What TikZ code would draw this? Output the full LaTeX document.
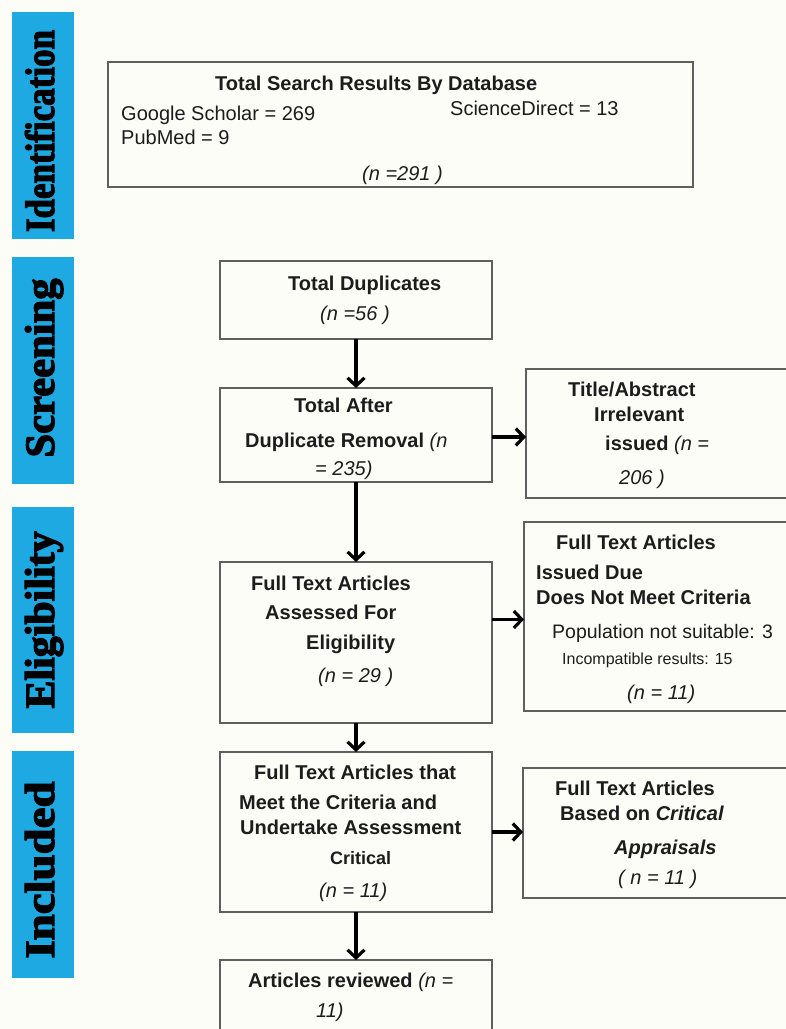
\documentclass[tikz,border=0pt]{standalone}
\usepackage{fontspec}
\setmainfont{Liberation Sans}
\newfontface\stagefont[FakeBold=3]{Liberation Serif Bold}
\usetikzlibrary{arrows.meta,fit}
\definecolor{stageblue}{RGB}{30,169,226}
\definecolor{paper}{RGB}{253,253,248}
\definecolor{frame}{RGB}{95,95,95}
\definecolor{ink}{RGB}{28,28,28}

\begin{document}
\begin{tikzpicture}[x=1pt,y=-1pt,
	box/.style={draw=frame,line width=1.4pt,inner sep=0,outer sep=0},
	stage/.style={fill=stageblue,inner sep=0,outer sep=0},
	stagename/.style={rotate=90,anchor=base,inner sep=0,text=black},
	txt/.style={anchor=mid west,inner sep=0,yshift=-5pt,text=ink,font=\fontsize{20}{24}\selectfont},
	arr/.style={line width=3.2pt,-{Straight Barb[length=8pt,width=17pt]}}]
	\path[fill=paper,use as bounding box] (0,0) rectangle (786,1029);
	\clip (0,0) rectangle (786,1029);
	% stage bars
	\node[stage,fit={(12,12) (74,239)}] (idbar) {};
	\node[stage,fit={(12,257) (74,484)}] (scbar) {};
	\node[stage,fit={(12,507) (74,733)}] (elbar) {};
	\node[stage,fit={(12,751) (74,978)}] (inbar) {};
	\node[stagename] (idname) at (54,131) {\resizebox{202pt}{29pt}{\stagefont Identification}};
	\node[stagename] (scname) at (54,368) {\resizebox{179pt}{29pt}{\stagefont Screening}};
	\node[stagename] (elname) at (54,620) {\resizebox{177pt}{29pt}{\stagefont Eligibility}};
	\node[stagename] (inname) at (54,870) {\resizebox{177pt}{29pt}{\stagefont Included}};
	% boxes
	\node[box,fit={(108,62) (693,187)}] (search) {};
	\node[box,fit={(220,261) (492,339)}] (dup) {};
	\node[box,fit={(220,388) (492,482)}] (removal) {};
	\node[box,fit={(526,369) (792,498)}] (irrelevant) {};
	\node[box,fit={(220,562) (492,723)}] (assessed) {};
	\node[box,fit={(524,522) (792,711)}] (excluded) {};
	\node[box,fit={(220,752) (492,912)}] (included) {};
	\node[box,fit={(523,768) (792,898)}] (appraisal) {};
	\node[box,fit={(220,960) (492,1040)}] (reviewed) {};
	% texts
	\node[txt] (search1) at (215,83) {\textbf{Total Search Results By Database}};
	\node[txt] (search2) at (121,113) {Google Scholar = 269};
	\node[txt] (search3) at (450,108) {ScienceDirect = 13};
	\node[txt] (search4) at (121,137) {PubMed = 9};
	\node[txt] (search5) at (362,173) {\textit{(n =291 )}};
	\node[txt] (dup1) at (288,283) {\textbf{Total Duplicates}};
	\node[txt] (dup2) at (320,313) {\textit{(n =56 )}};
	\node[txt] (removal1) at (294,405) {\textbf{Total After}};
	\node[txt] (removal2) at (245,440) {\textbf{Duplicate Removal} \textit{(n}};
	\node[txt] (removal3) at (315,468) {\textit{= 235)}};
	\node[txt] (irrelevant1) at (568,389) {\textbf{Title/Abstract}};
	\node[txt] (irrelevant2) at (594,414) {\textbf{Irrelevant}};
	\node[txt] (irrelevant3) at (605,443) {\textbf{issued} \textit{(n =}};
	\node[txt] (irrelevant4) at (619,477) {\textit{206 )}};
	\node[txt] (assessed1) at (251,583) {\textbf{Full Text Articles}};
	\node[txt] (assessed2) at (265,612) {\textbf{Assessed For}};
	\node[txt] (assessed3) at (306,642) {\textbf{Eligibility}};
	\node[txt] (assessed4) at (318,675) {\textit{(n = 29 )}};
	\node[txt] (excluded1) at (556,542) {\textbf{Full Text Articles}};
	\node[txt] (excluded2) at (536,572) {\textbf{Issued Due}};
	\node[txt] (excluded3) at (536,597) {\textbf{Does Not Meet Criteria}};
	\node[txt,font=\fontsize{19.5}{23}\selectfont] (excluded4) at (552,631) {Population not suitable: 3};
	\node[txt,font=\fontsize{16}{19}\selectfont] (excluded5) at (562,657) {Incompatible results: 15};
	\node[txt] (excluded6) at (627,692) {\textit{(n = 11)}};
	\node[txt] (included1) at (254,772) {\textbf{Full Text Articles that}};
	\node[txt] (included2) at (239,802) {\textbf{Meet the Criteria and}};
	\node[txt] (included3) at (240,827) {\textbf{Undertake Assessment}};
	\node[txt,font=\fontsize{18}{21}\selectfont] (included4) at (330,857) {\textbf{Critical}};
	\node[txt] (included5) at (319,890) {\textit{(n = 11)}};
	\node[txt] (appraisal1) at (555,788) {\textbf{Full Text Articles}};
	\node[txt] (appraisal2) at (560,813) {\textbf{Based on \textit{Critical}}};
	\node[txt] (appraisal3) at (614,847) {\textbf{\textit{Appraisals}}};
	\node[txt] (appraisal4) at (618,877) {\textit{( n = 11 )}};
	\node[txt] (reviewed1) at (248,980) {\textbf{Articles reviewed} \textit{(n =}};
	\node[txt] (reviewed2) at (316,1010) {\textit{11)}};
	% arrows
	\draw[arr] (dup) -- (removal);
	\draw[arr] (removal) -- (assessed);
	\draw[arr] (assessed) -- (included);
	\draw[arr] (included) -- (reviewed);
	\draw[arr] ([yshift=-2pt]removal.east) -- ([yshift=-2pt]removal.east -| irrelevant.west);
	\draw[arr] ([yshift=-3pt]assessed.east |- excluded.west) -- ([yshift=-3pt]excluded.west);
	\draw[arr] (included.east) -- (included.east -| appraisal.west);
\end{tikzpicture}
\end{document}
